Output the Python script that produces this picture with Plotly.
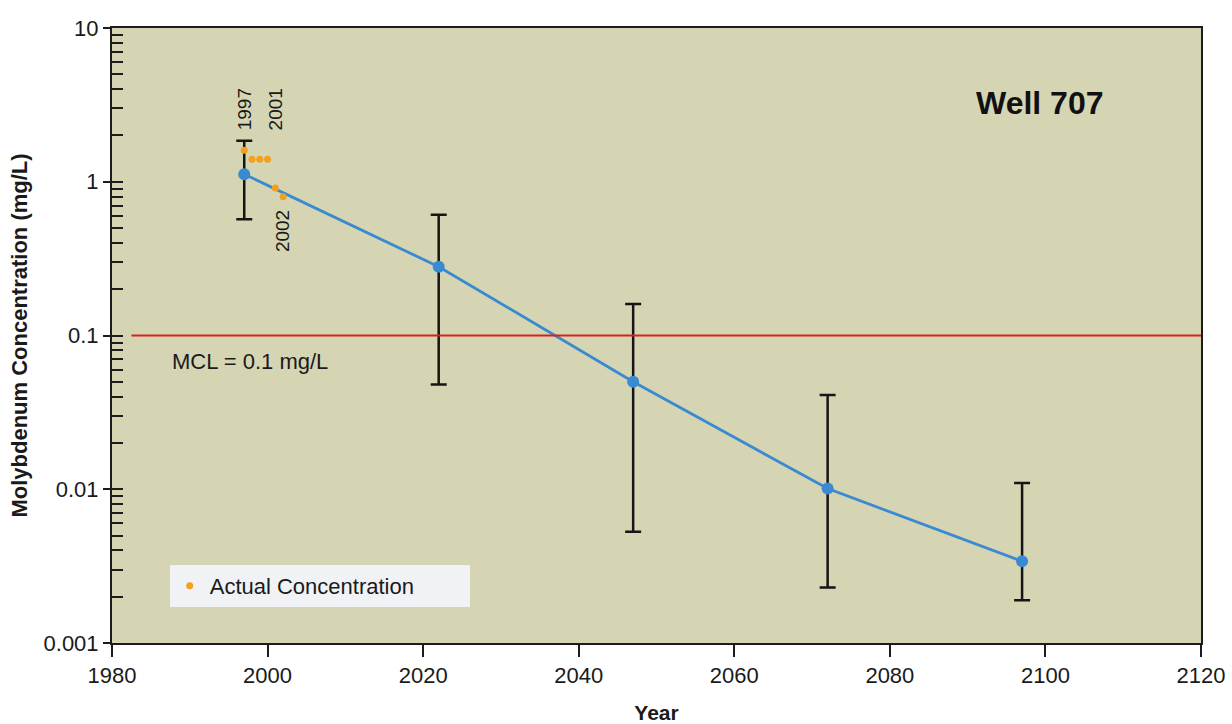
import plotly.graph_objects as go

# ---- data ----
model_years = [1997, 2022, 2047, 2072, 2097]
model_conc = [1.12, 0.28, 0.050, 0.0101, 0.0034]
model_upper = [1.85, 0.61, 0.16, 0.041, 0.011]
model_lower = [0.57, 0.048, 0.0053, 0.0023, 0.0019]

actual_years = [1997, 1998, 1999, 2000, 2001, 2002]
actual_conc = [1.6, 1.4, 1.4, 1.4, 0.91, 0.80]

mcl_value = 0.1
mcl_start_year = 1982.5

x_ticks = [1980, 2000, 2020, 2040, 2060, 2080, 2100, 2120]
y_ticks = [0.001, 0.01, 0.1, 1, 10]
y_tick_labels = ["0.001", "0.01", "0.1", "1", "10"]
minor_mults = [2, 3, 4, 5, 6, 7, 8, 9]

FONT = "Liberation Sans, Arial, sans-serif"
AXIS_COLOR = "#1c1c1c"
TEXT_COLOR = "#1a1a1a"

err_plus = [u - v for u, v in zip(model_upper, model_conc)]
err_minus = [v - l for v, l in zip(model_conc, model_lower)]
y_minor = [d * m for d in y_ticks[:-1] for m in minor_mults]

fig = go.Figure()

# error bars (drawn first, underneath)
fig.add_trace(go.Scatter(
    x=model_years, y=model_conc, mode="markers",
    marker=dict(size=1, color="rgba(0,0,0,0)"),
    error_y=dict(type="data", symmetric=False, array=err_plus, arrayminus=err_minus,
                 color="#151515", thickness=2.5, width=8),
    showlegend=False, hoverinfo="skip"))

# model line
fig.add_trace(go.Scatter(
    x=model_years, y=model_conc, mode="lines+markers",
    line=dict(color="#3a8ad2", width=2.8),
    marker=dict(color="#3a8ad2", size=12),
    showlegend=False))

# actual concentration
fig.add_trace(go.Scatter(
    x=actual_years, y=actual_conc, mode="markers",
    marker=dict(color="#f2a01e", size=7),
    name="Actual Concentration", showlegend=True))

# dummy trace for inner-tick overlay axis
fig.add_trace(go.Scatter(x=[], y=[], yaxis="y2", showlegend=False, hoverinfo="skip"))

# MCL line
fig.add_shape(type="line", xref="x", yref="y",
              x0=mcl_start_year, x1=x_ticks[-1], y0=mcl_value, y1=mcl_value,
              line=dict(color="#d9201e", width=2))

# annotations
for yr, ylog in [(1997, 0.473), (2001, 0.473), (2002, -0.32)]:
    fig.add_annotation(x=yr, y=ylog, xref="x", yref="y", text=str(yr), textangle=-90,
                       xanchor="center", yanchor="middle", showarrow=False,
                       font=dict(family=FONT, size=19, color=TEXT_COLOR))
fig.add_annotation(x=0.852, y=0.878, xref="paper", yref="paper", text="<b>Well 707</b>",
                   xanchor="center", yanchor="middle", showarrow=False,
                   font=dict(family=FONT, size=32, color="#111111"))
fig.add_annotation(x=0.053, y=0.4585, xref="paper", yref="paper", text="MCL = 0.1 mg/L",
                   xanchor="left", yanchor="middle", showarrow=False,
                   font=dict(family=FONT, size=22, color=TEXT_COLOR))

fig.update_layout(
    width=1232, height=724,
    margin=dict(l=112, r=31, t=28, b=81, autoexpand=False),
    paper_bgcolor="#ffffff",
    plot_bgcolor="#d5d5b4",
    font=dict(family=FONT, size=21, color=TEXT_COLOR),
    legend=dict(x=0.053, y=0.127, xanchor="left", yanchor="top",
                bgcolor="#f1f2f6", borderwidth=0, orientation="h",
                entrywidth=255, entrywidthmode="pixels",
                font=dict(family=FONT, size=22, color=TEXT_COLOR),
                itemsizing="trace"),
    xaxis=dict(range=[x_ticks[0], x_ticks[-1]], tickvals=x_ticks,
               ticks="outside", ticklen=12, tickwidth=2, tickcolor=AXIS_COLOR,
               showline=True, linecolor=AXIS_COLOR, linewidth=2, mirror=True,
               showgrid=False, zeroline=False,
               tickfont=dict(family=FONT, size=22, color=TEXT_COLOR),
               title=dict(text="<b>Year</b>", standoff=20,
                          font=dict(family=FONT, size=21, color=TEXT_COLOR))),
    yaxis=dict(type="log", range=[-3, 1], tickvals=y_ticks, ticktext=y_tick_labels,
               ticks="outside", ticklen=7, tickwidth=2, tickcolor=AXIS_COLOR,
               minor=dict(tickmode="array", tickvals=y_minor,
                          ticks="inside", ticklen=11, tickwidth=1.5, tickcolor=AXIS_COLOR,
                          showgrid=False),
               showline=True, linecolor=AXIS_COLOR, linewidth=2, mirror=True,
               showgrid=False, zeroline=False,
               tickfont=dict(family=FONT, size=22, color=TEXT_COLOR),
               title=dict(text="<b>Molybdenum Concentration (mg/L)</b>", standoff=10,
                          font=dict(family=FONT, size=22, color=TEXT_COLOR))),
    yaxis2=dict(type="log", range=[-3, 1], overlaying="y", side="left",
                tickvals=y_ticks, showticklabels=False,
                ticks="inside", ticklen=11, tickwidth=2, tickcolor=AXIS_COLOR,
                showline=False, showgrid=False, zeroline=False),
)

fig.write_html("out.html")
